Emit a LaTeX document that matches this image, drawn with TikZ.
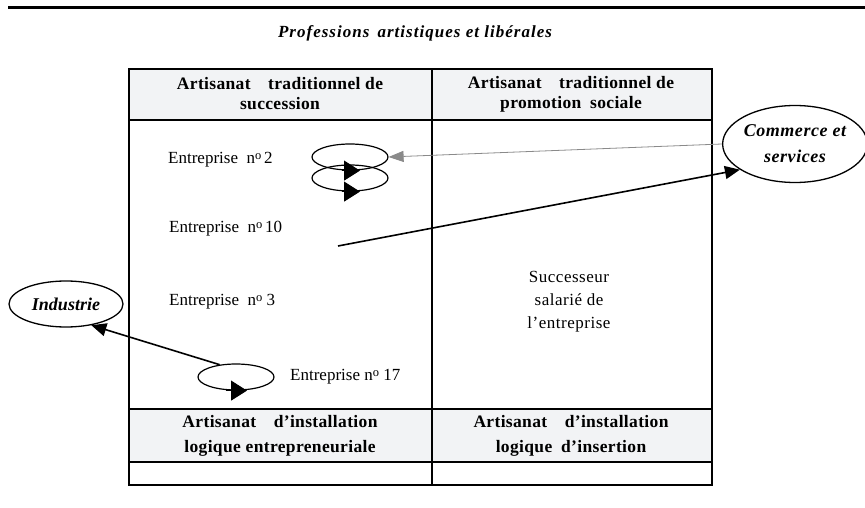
\documentclass[tikz,border=0pt]{standalone}
\usepackage{fontspec}
\setmainfont{Liberation Serif}
\usetikzlibrary{arrows.meta,shapes.geometric}
\definecolor{hdrgray}{HTML}{F2F3F5}
\definecolor{thinline}{HTML}{8A8A8A}
\newcommand{\nodeg}{n\raisebox{0.5ex}{\fontsize{12.5}{12.5}\selectfont o}}
\tikzset{
  hdr/.style={font=\fontsize{17.5}{20}\selectfont\bfseries\addfontfeatures{LetterSpace=2}, align=center, inner sep=0pt},
  hdrb/.style={hdr, font=\fontsize{17.5}{24.5}\selectfont\bfseries\addfontfeatures{LetterSpace=2}},
  body/.style={font=\fontsize{17}{23}\selectfont, inner sep=0pt},
  loopell/.style={draw, line width=1.2pt, ellipse, minimum width=76pt, minimum height=26pt, inner sep=0pt},
  sector/.style={draw, line width=1.3pt, ellipse, align=center, inner sep=0pt, font=\fontsize{18}{26}\selectfont\bfseries\itshape},
  looptip/.style={-{Triangle[length=16pt,width=20pt]}, line width=1pt},
  bigarrow/.style={-{Triangle[length=15pt,width=13pt]}, line width=1.6pt},
  thinarrow/.style={-{Triangle[length=15pt,width=11pt]}, line width=0.8pt, draw=thinline},
  frame/.style={line width=1.8pt}
}
\begin{document}
\begin{tikzpicture}[x=1pt,y=-1pt]
\useasboundingbox (0,0) rectangle (865,508);
% top rule
\draw[line width=3pt] (8,7.5) -- (865,7.5);
% title
\node[font=\fontsize{17}{20}\selectfont\bfseries\itshape, inner sep=0pt] (title) at (415,33) {\addfontfeatures{LetterSpace=6}Professions\, artistiques et libérales};
% header fills
\fill[hdrgray] (129,69) rectangle (712,120);
\fill[hdrgray] (129,409) rectangle (712,462);
% table frame
\draw[frame] (129,69) rectangle (712,485);
\draw[frame] (432,69) -- (432,485);
\draw[frame] (129,120) -- (712,120);
\draw[frame] (129,409) -- (712,409);
\draw[frame] (129,462) -- (712,462);
% headers
\node[hdr] (h1) at (280,94) {Artisanat\quad traditionnel de\\succession};
\node[hdr] (h2) at (571,94) {Artisanat\quad traditionnel de\\promotion\enspace sociale};
\node[hdrb] (h3) at (280,436) {Artisanat\quad d’installation\\logique entrepreneuriale};
\node[hdrb] (h4) at (571,436) {Artisanat\quad d’installation\\logique\enspace d’insertion};
% body texts
\node[body, anchor=west] (en2) at (168,160) {Entreprise\enspace\nodeg\,2};
\node[body, anchor=west] (en10) at (169,229) {Entreprise\enspace\nodeg\,10};
\node[body, anchor=west] (en3) at (169,302) {Entreprise\enspace\nodeg\ 3};
\node[body, anchor=west] (en17) at (290,377) {Entreprise \nodeg\ 17};
\node[body, align=center] (succ) at (569,302) {\addfontfeatures{LetterSpace=3}Successeur\\\addfontfeatures{LetterSpace=3}salarié de\\\addfontfeatures{LetterSpace=3}l’entreprise};
% sector ellipses
\node[sector, minimum width=140pt, minimum height=77pt] (comm) at (795,144) {\addfontfeatures{LetterSpace=3}Commerce et\\\addfontfeatures{LetterSpace=3}services};
\node[sector, minimum width=114pt, minimum height=46pt] (ind) at (66,304) {Industrie};
% loop ellipses
\node[loopell] (l1) at (350,157) {};
\node[loopell] (l2) at (350,178) {};
\node[loopell] (l3) at (236,377) {};
\draw[looptip] ([xshift=-8pt]l1.south) -- ([xshift=10pt]l1.south);
\draw[looptip] ([xshift=-8pt]l2.south) -- ([xshift=10pt]l2.south);
\draw[looptip] ([xshift=-10pt]l3.south) -- ([xshift=11pt]l3.south);
% connectors
\draw[thinarrow] (comm.west) -- (l1.east);
\coordinate (s10) at (338,246);
\draw[bigarrow] (s10) -- (comm.205);
\draw[bigarrow] (l3.143) -- (ind.-40);
\end{tikzpicture}
\end{document}
